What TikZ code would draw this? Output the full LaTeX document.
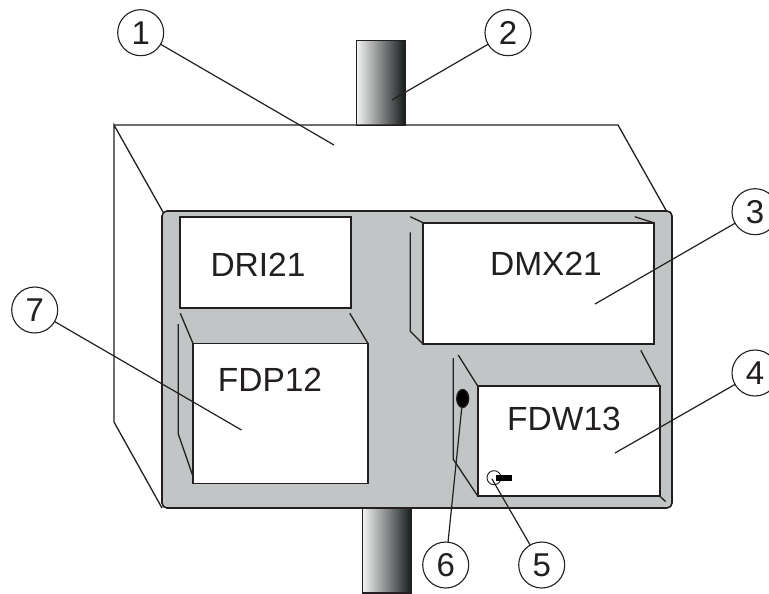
\documentclass[tikz,border=0pt]{standalone}
\usepackage{fontspec}
\setmainfont{Liberation Sans}
\usetikzlibrary{calc,shapes.geometric}
\definecolor{panelgray}{HTML}{C1C5C6}
\definecolor{polelight}{HTML}{F2F2F2}
\definecolor{polemid}{HTML}{768283}
\definecolor{poledark}{HTML}{171C1D}
\definecolor{inkblack}{HTML}{231F20}

\begin{document}
\begin{tikzpicture}[
 x=1pt,y=-1pt,
 color=inkblack,
 line width=1.3pt,
 inner sep=0pt,
 outer sep=0pt,
 box/.style={draw=inkblack,rectangle,fill=white,line width=1.6pt},
 pole/.style={draw=inkblack,rectangle,minimum width=48.5pt,left color=polelight,middle color=polemid,right color=poledark},
 callout/.style={draw=inkblack,circle,fill=white,minimum size=46pt,font=\fontsize{33}{33}\selectfont,line width=1.1pt},
 modname/.style={font=\fontsize{33.5}{33.5}\selectfont},
 leader/.style={line width=1.2pt}
]
\useasboundingbox (0,0) rectangle (769,594);
\node (pole-top) [pole,minimum height=84.5pt] at (380.7,83) {};
\node (pole-bottom) [pole,minimum height=85pt] at (387,550.5) {};
% housing behind the panel
\coordinate (back-nw) at (114,125);
\coordinate (back-ne) at (618,125);
\coordinate (back-sw) at (114,422);
\node (panel) [draw=inkblack,rectangle,rounded corners=5pt,fill=panelgray,line width=1.6pt,minimum width=510pt,minimum height=297pt] at (417,359.5) {};
\draw ($(panel.north west)+(1,1)$) -- (back-nw) -- (back-sw) -- (panel.south west);
\draw (back-nw) -- (back-ne) -- ($(panel.north east)+(-5,1)$);
% modules
\node (dri) [box,minimum width=170.5pt,minimum height=91.5pt] at (265.5,262.5) {};
\node (fdp) [box,minimum width=175pt,minimum height=140pt] at (280.5,413.5) {};
\node (dmx) [box,minimum width=230.5pt,minimum height=121.5pt] at (538.5,283.5) {};
\node (fdw) [box,minimum width=182pt,minimum height=110pt] at (568.7,441) {};
\node (dri-name) [modname] at (258,265) {DRI21};
\node (fdp-name) [modname] at (270,380) {FDP12};
\node (dmx-name) [modname] at (546,264) {DMX21};
\node (fdw-name) [modname] at (564,419) {FDW13};
% side edges
\draw ($(dri.south west)+(0,5)$) -- (fdp.north west);
\draw ($(dri.south east)+(-1,5)$) -- (fdp.north east);
\draw ($(fdp.north west)+(-14.7,-19.5)$) -- ($(fdp.south west)+(-14.7,-49.5)$) -- ($(fdp.south west)+(0,-7)$);
\draw ($(dmx.north west)+(-13,-6)$) -- (dmx.north west);
\draw ($(dmx.north east)+(-19,-6)$) -- (dmx.north east);
\draw ($(dmx.north west)+(-13,9.5)$) -- ($(dmx.south west)+(-13,-13)$) -- (dmx.south west);
\draw ($(dmx.south east)+(-13,6)$) -- (fdw.north east);
\draw ($(fdw.north west)+(-19.5,-31)$) -- (fdw.north west);
\draw ($(fdw.north west)+(-24.4,-28)$) -- ($(fdw.south west)+(-24.4,-36.7)$) -- (fdw.south west);
\draw (fdw.south east) -- ($(fdw.south east)+(6,5.7)$);
% key switch and lamp
\node (lamp) [draw=inkblack,ellipse,fill=black,minimum width=12pt,minimum height=18pt] at (462.7,398.5) {};
\node (knob) [draw=inkblack,circle,fill=white,minimum size=14pt,line width=0.9pt] at (494,477.7) {};
\coordinate (handle) at (512,478);
\draw [line width=5.5pt,draw=black] (496,478) -- (handle);
% callouts
\node (lbl-1) [callout] at (140.7,32.7) {1};
\node (lbl-2) [callout] at (508,32.7) {2};
\node (lbl-3) [callout] at (755,211.7) {3};
\node (lbl-4) [callout] at (755,373) {4};
\node (lbl-5) [callout] at (541.7,565) {5};
\node (lbl-6) [callout] at (445.7,565) {6};
\node (lbl-7) [callout] at (34.7,310) {7};
\coordinate (end-1) at (334,145);
\coordinate (end-2) at (392,100);
\coordinate (end-3) at (595,304);
\coordinate (end-4) at (615,453);
\coordinate (end-5) at (492,479);
\coordinate (end-7) at (241.5,430);
\draw [leader] (lbl-1) -- (end-1);
\draw [leader] (lbl-2) -- (end-2);
\draw [leader] (lbl-3) -- (end-3);
\draw [leader] (lbl-4) -- (end-4);
\draw [leader] (lbl-5) -- (end-5);
\draw [leader] (lbl-6) -- (lamp);
\draw [leader] (lbl-7) -- (end-7);
\end{tikzpicture}
\end{document}
